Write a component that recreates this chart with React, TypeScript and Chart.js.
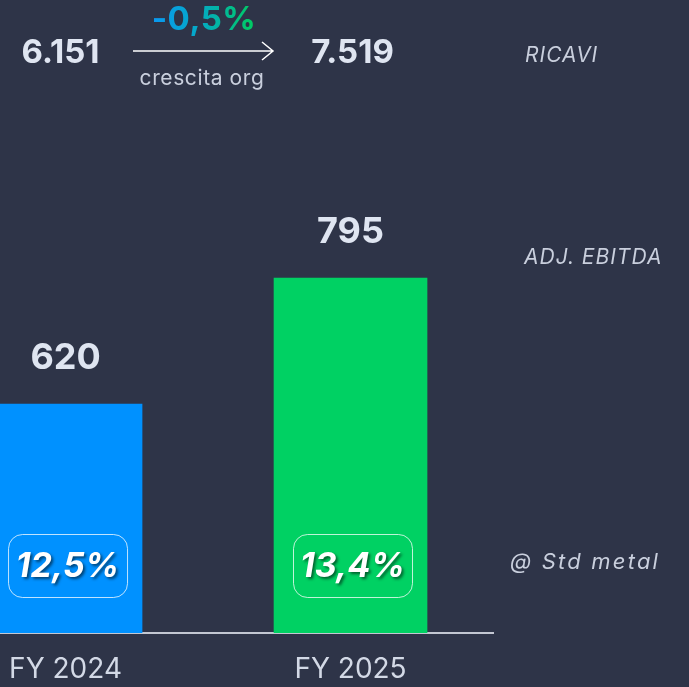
import React, { useEffect, useRef } from 'react';
import { Chart, registerables } from 'chart.js';

Chart.register(...registerables);

const categories = ['FY 2024', 'FY 2025'];
const ebitdaValues = [620, 795];
const marginLabels = ['12,5%', '13,4%'];
const revenueLabels = ['6.151', '7.519'];
const growthLabel = '-0,5%';
const growthCaption = 'crescita org';
const rowLabels = ['RICAVI', 'ADJ. EBITDA', '@ Std metal'];
const barColors = ['#0091ff', '#00d163'];

const BG = '#2e3448';
const TEXT = '#dfe5f1';
const SUB = '#c9cfdd';
const FONT = 'Inter, "Open Sans", sans-serif';

function roundRect(ctx: CanvasRenderingContext2D, x: number, y: number, w: number, h: number, r: number) {
  ctx.beginPath();
  ctx.moveTo(x + r, y);
  ctx.lineTo(x + w - r, y);
  ctx.arcTo(x + w, y, x + w, y + r, r);
  ctx.lineTo(x + w, y + h - r);
  ctx.arcTo(x + w, y + h, x + w - r, y + h, r);
  ctx.lineTo(x + r, y + h);
  ctx.arcTo(x, y + h, x, y + h - r, r);
  ctx.lineTo(x, y + r);
  ctx.arcTo(x, y, x + r, y, r);
  ctx.closePath();
}

const bgPlugin = {
  id: 'bg',
  beforeDraw(chart: any) {
    const ctx = chart.ctx;
    ctx.save();
    ctx.fillStyle = BG;
    ctx.fillRect(0, 0, chart.width, chart.height);
    ctx.restore();
  },
};

const annotPlugin = {
  id: 'annot',
  afterDatasetsDraw(chart: any) {
    const ctx: any = chart.ctx;
    const meta = chart.getDatasetMeta(0);
    const area = chart.chartArea;
    const xs = chart.scales.x;
    ctx.save();
    // value labels
    ctx.textAlign = 'center';
    ctx.textBaseline = 'middle';
    ctx.fillStyle = TEXT;
    ctx.font = `bold 36px ${FONT}`;
    meta.data.forEach((bar: any, i: number) => {
      ctx.fillText(String(ebitdaValues[i]), bar.x, bar.y - 46);
    });
    // margin badges
    meta.data.forEach((bar: any, i: number) => {
      const cx = bar.x + 2;
      const top = area.bottom - 99;
      const h = 63;
      const w = 119;
      ctx.save();
      ctx.strokeStyle = 'rgba(255,255,255,0.75)';
      ctx.lineWidth = 1;
      roundRect(ctx, cx - w / 2 + 0.5, top + 0.5, w, h, 14);
      ctx.stroke();
      ctx.shadowColor = 'rgba(0,0,0,0.55)';
      ctx.shadowOffsetX = 2;
      ctx.shadowOffsetY = 2;
      ctx.shadowBlur = 3;
      ctx.fillStyle = '#ffffff';
      ctx.font = `italic bold 34px ${FONT}`;
      ctx.textAlign = 'center';
      ctx.textBaseline = 'middle';
      ctx.fillText(marginLabels[i], cx, top + h / 2 + 1);
      ctx.restore();
    });
    // top row: revenues
    ctx.fillStyle = TEXT;
    ctx.font = `bold 33px ${FONT}`;
    ctx.textAlign = 'center';
    ctx.textBaseline = 'middle';
    const p0 = xs.getPixelForValue(0);
    const p1 = xs.getPixelForValue(1);
    ctx.fillText(revenueLabels[0], p0 - 5, 53);
    ctx.fillText(revenueLabels[1], p1 + 2, 53);
    // arrow
    const ax0 = 133, ax1 = 273, ay = 51;
    ctx.strokeStyle = '#ffffff';
    ctx.lineWidth = 1.5;
    ctx.beginPath();
    ctx.moveTo(ax0, ay);
    ctx.lineTo(ax1, ay);
    ctx.moveTo(ax1 - 11, ay - 9);
    ctx.lineTo(ax1, ay);
    ctx.lineTo(ax1 - 11, ay + 9);
    ctx.stroke();
    // growth label with gradient
    ctx.font = `bold 33px ${FONT}`;
    ctx.letterSpacing = '0.5px';
    const gw = ctx.measureText(growthLabel).width;
    const gcx = 204;
    const grad = ctx.createLinearGradient(gcx - gw / 2, 0, gcx + gw / 2, 0);
    grad.addColorStop(0, '#0a98f2');
    grad.addColorStop(0.45, '#04a9c6');
    grad.addColorStop(1, '#00cc5c');
    ctx.fillStyle = grad;
    ctx.fillText(growthLabel, gcx, 20);
    // caption
    ctx.fillStyle = SUB;
    ctx.font = `21px ${FONT}`;
    ctx.letterSpacing = '0.6px';
    ctx.fillText(growthCaption, 202, 79);
    // row labels
    ctx.font = `italic 21px ${FONT}`;
    ctx.letterSpacing = '1px';
    ctx.textAlign = 'left';
    ctx.fillStyle = SUB;
    ctx.fillText(rowLabels[0], 525, 56);
    ctx.fillText(rowLabels[1], 524, 258);
    ctx.font = `italic 22px ${FONT}`;
    ctx.letterSpacing = '2.2px';
    ctx.fillText(rowLabels[2], 510, 562);
    ctx.letterSpacing = '0px';
    ctx.restore();
  },
};

export default function App() {
  const ref = useRef<HTMLCanvasElement | null>(null);
  useEffect(() => {
    if (!ref.current) return;
    const chart = new Chart(ref.current, {
      type: 'bar',
      data: {
        datasets: [
          {
            data: ebitdaValues.map((v, i) => ({ x: i, y: v })),
            backgroundColor: barColors,
            borderWidth: 0,
            barThickness: 153,
          },
        ],
      },
      options: {
        responsive: false,
        animation: false,
        layout: { padding: { left: 0, right: 196, top: 0, bottom: 0 } },
        plugins: {
          legend: { display: false },
          tooltip: { enabled: false },
        },
        scales: {
          x: {
            type: 'linear',
            offset: false,
            min: -0.23,
            max: 1.5,
            grid: { display: false, drawTicks: false },
            border: { display: true, color: '#c3c7d2', width: 2 },
            afterBuildTicks: (scale: any) => {
              scale.ticks = categories.map((_, i) => ({ value: i }));
            },
            afterFit: (scale: any) => {
              scale.height = 54;
              scale.paddingLeft = 0;
              scale.paddingRight = 0;
            },
            ticks: {
              padding: 20,
              color: '#d3d9e6',
              font: { family: FONT, size: 28 },
              callback: (v: any) => categories[Number(v)] ?? '',
              maxRotation: 0,
              autoSkip: false,
            },
          },
          y: {
            display: false,
            min: 302,
            max: 1181,
          },
        },
      },
      plugins: [bgPlugin, annotPlugin],
    } as any);
    return () => chart.destroy();
  }, []);
  return (
    <div style={{ position: 'fixed', left: 0, top: 0, width: 689, height: 687, background: BG }}>
      <canvas ref={ref} width={689} height={687} style={{ display: 'block', width: 689, height: 687 }} />
    </div>
  );
}
